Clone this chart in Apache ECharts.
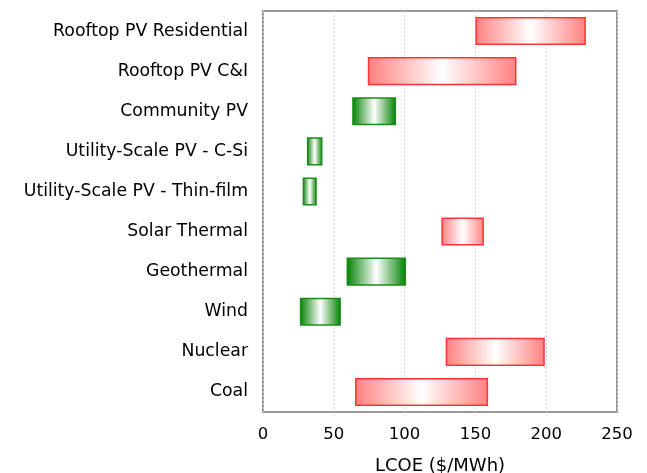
<!DOCTYPE html>
<html>
<head>
<meta charset="utf-8">
<script src="https://cdn.jsdelivr.net/npm/echarts@6/dist/echarts.min.js"></script>
<style>html,body{margin:0;padding:0;background:#fff}#c{width:647px;height:473px}</style>
</head>
<body>
<div id="c"></div>
<script>
var categories = ['Rooftop PV Residential','Rooftop PV C&I','Community PV','Utility-Scale PV - C-Si','Utility-Scale PV - Thin-film','Solar Thermal','Geothermal','Wind','Nuclear','Coal'];
var lowValues = [150, 74, 63, 31, 28, 126, 59, 26, 129, 65];
var highValues = [228, 179, 94, 42, 38, 156, 101, 55, 199, 159];
var isRenewableGreen = [false, false, true, true, true, false, true, true, false, false];
var xTicks = [0, 50, 100, 150, 200, 250];

function grad(edge) {
  return new echarts.graphic.LinearGradient(0, 0, 1, 0, [
    {offset: 0, color: edge},
    {offset: 0.5, color: '#ffffff'},
    {offset: 1, color: edge}
  ]);
}
var rangeData = categories.map(function (c, i) {
  var green = isRenewableGreen[i];
  return {
    value: highValues[i] - lowValues[i],
    itemStyle: {
      color: grad(green ? '#008000' : '#ff8080'),
      borderColor: green ? '#1a8c1a' : '#ff3333',
      borderWidth: 1.5
    }
  };
});

var chart = echarts.init(document.getElementById('c'), null, {renderer: 'canvas'});
chart.setOption({
  animation: false,
  grid: {left: 263, right: 30, top: 11, bottom: 61, show: true, borderColor: '#999', borderWidth: 2, backgroundColor: 'transparent', containLabel: false, outerBoundsMode: 'none'},
  xAxis: {
    type: 'value', min: 0, max: 250, interval: 50,
    name: 'LCOE ($/MWh)', nameLocation: 'middle', nameGap: 45,
    nameTextStyle: {fontFamily: 'DejaVu Sans', fontSize: 18, color: '#000'},
    axisLine: {show: false}, axisTick: {show: false},
    axisLabel: {fontFamily: 'DejaVu Sans', fontSize: 16.5, color: '#000', margin: 14,
      formatter: function (v) { return xTicks.indexOf(v) >= 0 ? String(v) : ''; }},
    splitLine: {show: true, lineStyle: {color: '#d0d0d0', type: [2, 2], width: 1}}
  },
  yAxis: {
    type: 'category', data: categories, inverse: true,
    axisLine: {show: false}, axisTick: {show: false},
    axisLabel: {fontFamily: 'DejaVu Sans', fontSize: 17.3, color: '#000', margin: 15},
    splitLine: {show: false}
  },
  series: [
    {type: 'bar', stack: 'r', data: lowValues, itemStyle: {color: 'transparent'}, barWidth: '70%', silent: true},
    {type: 'bar', stack: 'r', data: rangeData, barWidth: '70%'}
  ]
});
</script>
</body>
</html>
